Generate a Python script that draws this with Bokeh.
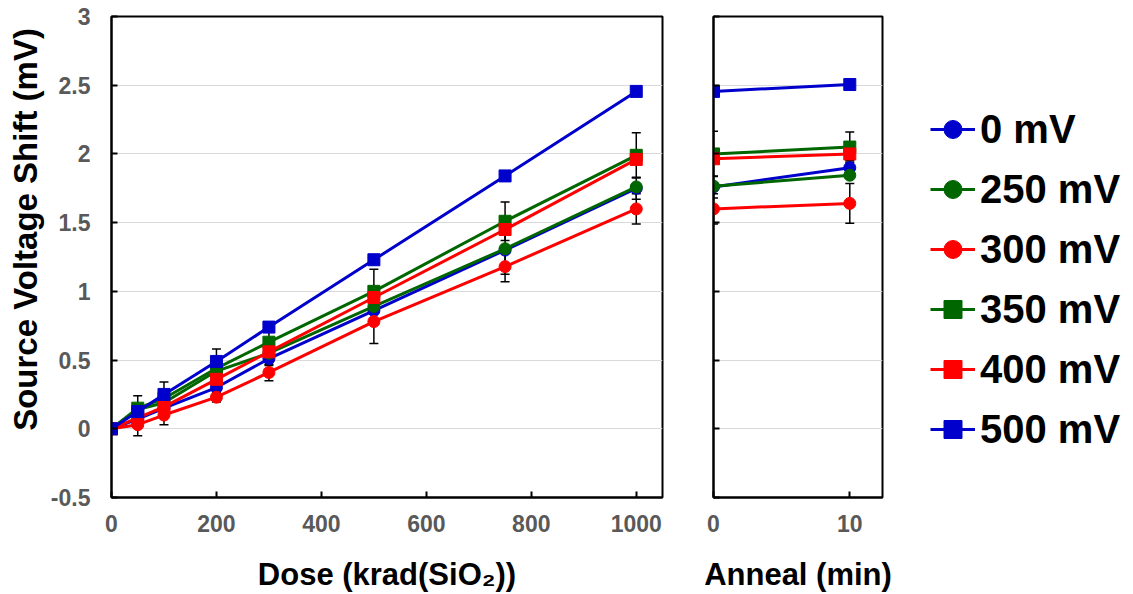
from bokeh.plotting import figure
from bokeh.layouts import row
from bokeh.models import (ColumnDataSource, Whisker, TeeHead, Legend, LegendItem,
                          FixedTicker, Range1d)
from bokeh.embed import file_html
from bokeh.resources import INLINE

# ---------------- data ----------------
doses = [0, 50, 100, 200, 300, 500, 750, 1000]
anneal_min = [0, 10]
series_labels = ["0 mV", "250 mV", "300 mV", "350 mV", "400 mV", "500 mV"]

dose_0mV = [0, 0.07, 0.15, 0.30, 0.51, 0.86, 1.30, 1.75]
dose_250mV = [0, 0.14, 0.19, 0.42, 0.55, 0.89, 1.31, 1.76]
dose_300mV = [0, 0.03, 0.10, 0.23, 0.41, 0.78, 1.18, 1.60]
dose_350mV = [0, 0.15, 0.22, 0.44, 0.63, 1.00, 1.51, 1.99]
dose_400mV = [0, 0.08, 0.16, 0.36, 0.56, 0.955, 1.45, 1.96]
dose_500mV = [0, 0.125, 0.25, 0.49, 0.74, 1.23, 1.84, 2.455]

anneal_0mV = [1.76, 1.90]
anneal_250mV = [1.765, 1.845]
anneal_300mV = [1.60, 1.64]
anneal_350mV = [2.00, 2.05]
anneal_400mV = [1.965, 2.00]
anneal_500mV = [2.455, 2.505]

# error bars (only visible for some series)
err_dose_0mV = [0, 0.05, 0.06, 0.05, 0.05, 0.10, 0.175, 0.08]
err_dose_300mV = [0, 0.08, 0.07, 0.035, 0.06, 0.16, 0.11, 0.11]
err_dose_350mV = [0, 0.09, 0.12, 0.14, 0.10, 0.16, 0.14, 0.165]
err_anneal_0mV = [0.08, 0.05]
err_anneal_300mV = [0.11, 0.145]
err_anneal_350mV = [0.165, 0.11]

y_ticks = [-0.5, 0, 0.5, 1, 1.5, 2, 2.5, 3]
y_tick_labels = ["-0.5", "0", "0.5", "1", "1.5", "2", "2.5", "3"]
dose_ticks = [0, 200, 400, 600, 800, 1000]
anneal_ticks = [0, 10]

# ---------------- styles ----------------
colors = ["#0000CC", "#006600", "#FF0000", "#006600", "#FF0000", "#0000CC"]
markers = ["circle", "circle", "circle", "square", "square", "square"]
FONT = "Liberation Sans"
TICK_COLOR = "#595959"

dose_series = [dose_0mV, dose_250mV, dose_300mV, dose_350mV, dose_400mV, dose_500mV]
anneal_series = [anneal_0mV, anneal_250mV, anneal_300mV, anneal_350mV, anneal_400mV, anneal_500mV]
dose_errs = [(dose_0mV, err_dose_0mV), (dose_300mV, err_dose_300mV), (dose_350mV, err_dose_350mV)]
anneal_errs = [(anneal_0mV, err_anneal_0mV), (anneal_300mV, err_anneal_300mV), (anneal_350mV, err_anneal_350mV)]


def style(p, xticks, show_ylabels):
    p.outline_line_color = "black"
    p.outline_line_width = 2
    p.xgrid.visible = False
    p.ygrid.grid_line_color = "#D9D9D9"
    p.ygrid.grid_line_width = 1
    p.ygrid.ticker = FixedTicker(ticks=y_ticks)
    for ax in (p.xaxis[0], p.yaxis[0]):
        ax.axis_line_color = "black"
        ax.axis_line_width = 2
        ax.major_tick_line_color = "black"
        ax.major_tick_line_width = 2
        ax.major_tick_in = 6
        ax.major_tick_out = 0
        ax.minor_tick_line_color = None
        ax.major_label_text_font = FONT
        ax.major_label_text_font_style = "bold"
        ax.major_label_text_font_size = "23px"
        ax.major_label_text_color = TICK_COLOR
        ax.axis_label_text_font = FONT
        ax.axis_label_text_font_style = "bold"
        ax.axis_label_text_font_size = "31px"
        ax.axis_label_text_color = "black"
    p.xaxis[0].ticker = FixedTicker(ticks=xticks)
    p.xaxis[0].major_label_overrides = {t: str(t) for t in xticks}
    p.xaxis[0].major_label_standoff = 17
    p.xaxis[0].axis_label_standoff = 22
    p.yaxis[0].ticker = FixedTicker(ticks=y_ticks)
    if show_ylabels:
        p.yaxis[0].major_label_overrides = {t: s for t, s in zip(y_ticks, y_tick_labels)}
        p.yaxis[0].major_label_standoff = 21
        p.yaxis[0].axis_label_standoff = 4
        p.yaxis[0].axis_label_text_font_size = "33px"
    else:
        p.yaxis[0].major_label_overrides = {t: "" for t in y_ticks}
        p.yaxis[0].major_label_standoff = 0


p1 = figure(width=665, height=594, x_range=Range1d(0, 1050), y_range=Range1d(-0.5, 3),
            output_backend="svg", toolbar_location=None,
            min_border_left=111, min_border_right=3, min_border_top=16, min_border_bottom=96)
p1.xaxis.axis_label = "Dose (krad(SiO\u2082))"
p1.yaxis.axis_label = "\u00a0" * 6 + "Source Voltage Shift (mV)"
style(p1, dose_ticks, True)

p2 = figure(width=232, height=594, x_range=Range1d(0, 12.4), y_range=Range1d(-0.5, 3),
            output_backend="svg", toolbar_location=None,
            min_border_left=48, min_border_right=15, min_border_top=16, min_border_bottom=96)
p2.xaxis.axis_label = "Anneal (min)"
style(p2, anneal_ticks, False)

# legend panel: the key's renderers hold the anneal data, but its ranges keep them out of view
p3 = figure(width=236, height=594, x_range=Range1d(100, 101), y_range=Range1d(100, 101),
            output_backend="svg", toolbar_location=None,
            min_border_left=0, min_border_right=0, min_border_top=16, min_border_bottom=96)
p3.axis.visible = False
p3.grid.visible = False
p3.outline_line_color = None


def add_errors(p, xs, pairs):
    for vals, errs in pairs:
        src = ColumnDataSource(dict(x=xs,
                                    lo=[v - e for v, e in zip(vals, errs)],
                                    hi=[v + e for v, e in zip(vals, errs)]))
        w = Whisker(source=src, base="x", lower="lo", upper="hi", dimension="height",
                    line_color="black", line_width=1.5, level="underlay",
                    upper_head=TeeHead(size=9, line_color="black", line_width=1.5),
                    lower_head=TeeHead(size=9, line_color="black", line_width=1.5))
        p.add_layout(w)


add_errors(p1, doses, dose_errs)
add_errors(p2, anneal_min, anneal_errs)

legend_items = []
for i, lab in enumerate(series_labels):
    s1 = ColumnDataSource(dict(x=doses, y=dose_series[i]))
    p1.line("x", "y", source=s1, line_color=colors[i], line_width=3)
    p1.scatter("x", "y", source=s1, marker=markers[i], size=12,
               fill_color=colors[i], line_color=colors[i])
    s2 = ColumnDataSource(dict(x=anneal_min, y=anneal_series[i]))
    p2.line("x", "y", source=s2, line_color=colors[i], line_width=3)
    p2.scatter("x", "y", source=s2, marker=markers[i], size=12,
               fill_color=colors[i], line_color=colors[i])
    lr = p3.line("x", "y", source=s2, line_color=colors[i], line_width=3)
    sr = p3.scatter("x", "y", source=s2, marker=markers[i], size=18,
                    fill_color=colors[i], line_color=colors[i])
    legend_items.append(LegendItem(label=lab, renderers=[lr, sr]))

legend = Legend(items=legend_items, location=(33, 44),
                label_text_font=FONT, label_text_font_style="bold",
                label_text_font_size="40px", label_text_color="black",
                glyph_width=45, glyph_height=48, label_height=48, spacing=12,
                padding=0, margin=0, label_standoff=5,
                border_line_color=None, background_fill_alpha=0)
p3.add_layout(legend)

layout = row(p1, p2, p3)
open("out.html", "w").write(file_html(layout, INLINE))
